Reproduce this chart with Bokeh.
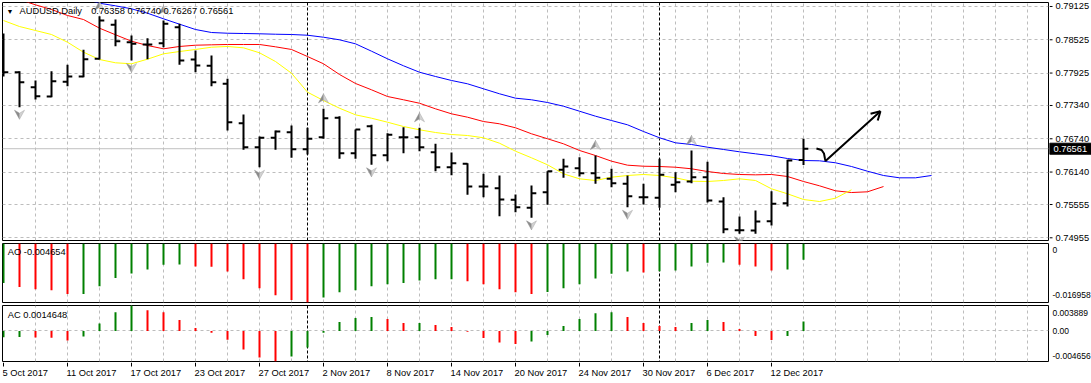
from bokeh.plotting import figure
from bokeh.models import Range1d, FixedTicker, Label, Span, Grid, ColumnDataSource
from bokeh.layouts import column, row
from bokeh.core.properties import value
from bokeh.embed import file_html
from bokeh.resources import INLINE

# ---------------- data ----------------
symbol = "AUDUSD,Daily"
dates = ["2017-10-05", "2017-10-06", "2017-10-09", "2017-10-10", "2017-10-11", "2017-10-12", "2017-10-13",
         "2017-10-16", "2017-10-17", "2017-10-18", "2017-10-19", "2017-10-20", "2017-10-23", "2017-10-24",
         "2017-10-25", "2017-10-26", "2017-10-27", "2017-10-30", "2017-10-31",
         "2017-11-01", "2017-11-02", "2017-11-03", "2017-11-06", "2017-11-07", "2017-11-08", "2017-11-09",
         "2017-11-10", "2017-11-13", "2017-11-14", "2017-11-15", "2017-11-16", "2017-11-17", "2017-11-20",
         "2017-11-21", "2017-11-22", "2017-11-23", "2017-11-24", "2017-11-27", "2017-11-28", "2017-11-29",
         "2017-11-30",
         "2017-12-01", "2017-12-04", "2017-12-05", "2017-12-06", "2017-12-07", "2017-12-08", "2017-12-11",
         "2017-12-12", "2017-12-13", "2017-12-14"]
tick_index = [0, 4, 8, 12, 16, 20, 24, 28, 32, 36, 40, 44, 48]
tick_labels = ["5 Oct 2017", "11 Oct 2017", "17 Oct 2017", "23 Oct 2017", "27 Oct 2017", "2 Nov 2017",
               "8 Nov 2017", "14 Nov 2017", "20 Nov 2017", "24 Nov 2017", "30 Nov 2017", "6 Dec 2017",
               "12 Dec 2017"]

opens = [0.78422, 0.77940, 0.77670, 0.77502, 0.77767, 0.77863, 0.78182, 0.78795, 0.78481, 0.78440,
         0.78463, 0.78752, 0.78169, 0.78056, 0.77731, 0.77021, 0.76588, 0.76758, 0.76858, 0.76552,
         0.76768, 0.77118, 0.76480, 0.76967, 0.76444, 0.76768, 0.76768, 0.76498, 0.76227, 0.76289,
         0.75879, 0.75849, 0.75640, 0.75495, 0.75777, 0.76181, 0.76209, 0.76119, 0.76018, 0.75928,
         0.75687, 0.75676, 0.75910, 0.75970, 0.76047, 0.75609, 0.75092, 0.75086, 0.75254, 0.75578, 0.76358]
highs = [0.78638, 0.77958, 0.77791, 0.77958, 0.78074, 0.78344, 0.78950, 0.78890, 0.78602, 0.78553,
         0.78872, 0.78813, 0.78332, 0.78241, 0.77821, 0.77178, 0.76781, 0.76889, 0.76979, 0.76938,
         0.77280, 0.77147, 0.76907, 0.76992, 0.76840, 0.76949, 0.76938, 0.76649, 0.76492, 0.76300,
         0.76108, 0.76078, 0.75735, 0.75897, 0.76155, 0.76379, 0.76408, 0.76438, 0.76199, 0.76078,
         0.75928, 0.76379, 0.76137, 0.76529, 0.76325, 0.75687, 0.75339, 0.75447, 0.75795, 0.76361, 0.76740]
lows = [0.77863, 0.77309, 0.77448, 0.77490, 0.77688, 0.77850, 0.78169, 0.78409, 0.78151, 0.78175,
        0.78391, 0.78074, 0.77940, 0.77688, 0.76889, 0.76541, 0.76227, 0.76541, 0.76397, 0.76456,
        0.76740, 0.76379, 0.76379, 0.76271, 0.76336, 0.76480, 0.76516, 0.76155, 0.76083, 0.75730,
        0.75687, 0.75344, 0.75416, 0.75315, 0.75550, 0.76036, 0.76060, 0.75928, 0.75867, 0.75506,
        0.75555, 0.75495, 0.75777, 0.75939, 0.75591, 0.75037, 0.75027, 0.75027, 0.75176, 0.75519, 0.76267]
closes = [0.77940, 0.77760, 0.77508, 0.77778, 0.77863, 0.78175, 0.78872, 0.78499, 0.78452, 0.78440,
          0.78813, 0.78151, 0.78061, 0.77760, 0.77039, 0.76588, 0.76758, 0.76871, 0.76552, 0.76740,
          0.77111, 0.76480, 0.76907, 0.76444, 0.76812, 0.76768, 0.76588, 0.76227, 0.76300, 0.75879,
          0.75879, 0.75645, 0.75506, 0.75759, 0.76155, 0.76240, 0.76119, 0.76036, 0.75939, 0.75705,
          0.75687, 0.76090, 0.75957, 0.76047, 0.75627, 0.75110, 0.75092, 0.75248, 0.75568, 0.76348, 0.76561]

# Alligator lines (shifted forward past the last bar)
lips = [0.78872, 0.78764, 0.78692, 0.78620, 0.78481, 0.78301, 0.78169, 0.78110, 0.78092, 0.78175,
        0.78272, 0.78313, 0.78350, 0.78391, 0.78404, 0.78380, 0.78290, 0.78133, 0.77922, 0.77580,
        0.77430, 0.77291, 0.77172, 0.77111, 0.77039, 0.76961, 0.76902, 0.76853, 0.76817, 0.76799,
        0.76758, 0.76660, 0.76516, 0.76397, 0.76271, 0.76108, 0.76018, 0.75988, 0.76047, 0.76078,
        0.76096, 0.76078, 0.76036, 0.75975, 0.75970, 0.75988, 0.76018, 0.75988, 0.75838, 0.75748,
        0.75645, 0.75609, 0.75669, 0.75820]
teeth = [0.79336, 0.79251, 0.79155, 0.79071, 0.78963, 0.78890, 0.78734, 0.78615, 0.78499, 0.78422,
         0.78362, 0.78404, 0.78427, 0.78434, 0.78440, 0.78440, 0.78440, 0.78398, 0.78350, 0.78223,
         0.78092, 0.77899, 0.77737, 0.77623, 0.77502, 0.77443, 0.77381, 0.77280, 0.77190, 0.77129,
         0.77051, 0.77010, 0.76938, 0.76830, 0.76740, 0.76649, 0.76529, 0.76438, 0.76336, 0.76264,
         0.76245, 0.76240, 0.76227, 0.76199, 0.76150, 0.76114, 0.76096, 0.76090, 0.76096, 0.76060,
         0.75970, 0.75892, 0.75802, 0.75771, 0.75784, 0.75879]
jaw = [0.79485, 0.79449, 0.79413, 0.79377, 0.79323, 0.79269, 0.79184, 0.79137, 0.79083, 0.79004,
       0.78903, 0.78806, 0.78710, 0.78656, 0.78643, 0.78638, 0.78633, 0.78625, 0.78620, 0.78607,
       0.78571, 0.78524, 0.78452, 0.78319, 0.78182, 0.78056, 0.77940, 0.77863, 0.77791, 0.77731,
       0.77641, 0.77551, 0.77472, 0.77443, 0.77394, 0.77327, 0.77237, 0.77147, 0.77069, 0.76992,
       0.76871, 0.76758, 0.76667, 0.76637, 0.76588, 0.76547, 0.76505, 0.76469, 0.76433, 0.76384,
       0.76348, 0.76343, 0.76307, 0.76240, 0.76155, 0.76078, 0.76036, 0.76036, 0.76078]

ao = [-0.01136, -0.01249, -0.01314, -0.01342, -0.01455, -0.01450, -0.01229, -0.00995, -0.00862, -0.00749,
      -0.00608, -0.00602, -0.00664, -0.00670, -0.00805, -0.01031, -0.01286, -0.01484, -0.01625, -0.016958,
      -0.01549, -0.01399, -0.01342, -0.01229, -0.01173, -0.01136, -0.01060, -0.01031, -0.01026, -0.01088,
      -0.01173, -0.01314, -0.01399, -0.01455, -0.01393, -0.01286, -0.01173, -0.01003, -0.00870, -0.00805,
      -0.00834, -0.00800, -0.00777, -0.00664, -0.00551, -0.00545, -0.00608, -0.00664, -0.00777, -0.00749,
      -0.004654]
ac = [-0.00095, -0.00093, -0.00101, -0.00103, -0.00147, -0.00086, 0.00116, 0.00287, 0.003889, 0.00318,
      0.00287, 0.00166, 0.00045, -0.00026, -0.00132, -0.00283, -0.00404, -0.004656, -0.00389, -0.00253,
      -0.00026, 0.00136, 0.00197, 0.00212, 0.00181, 0.00121, 0.00123, 0.00091, 0.00060, -0.00011,
      -0.00106, -0.00177, -0.00197, -0.00162, -0.00060, 0.00076, 0.00181, 0.00272, 0.00287, 0.00212,
      0.00121, 0.00076, 0.00060, 0.00121, 0.00166, 0.00136, 0.00030, -0.00076, -0.00136, -0.00076,
      0.0014648]

fractal_up = [6, 10, 20, 26, 37, 43]
fractal_down = [1, 8, 16, 23, 33, 39, 46]

price_levels = [0.79125, 0.78525, 0.77925, 0.77340, 0.76740, 0.76140, 0.75555, 0.74955]
price_top, price_bottom = 0.79197, 0.74906

# hand-drawn arrow (bar index, price)
drawn_arrow_x = [50.81, 51.13, 51.28, 51.34, 51.375, 54.81]
drawn_arrow_y = [0.76565, 0.76538, 0.76474, 0.76384, 0.76339, 0.77237]
drawn_head_x = [54.19, 54.64]
drawn_head_y = [0.77190, 0.77069]

# ---------------- style / layout ----------------
FONT = "Liberation Sans"
FS = "9.3px"
FS_SUB = "8.5px"
GRID = "#bdbdbd"
GREEN = "#008000"
RED = "#ff0000"

W = 1091
RW = 42                 # width of the right-hand price scale strip
LW = W - RW             # width of the chart column
LB, RB = 2, 1
FW = LW - LB - RB
BAR_PX = 16
x_start = -1.0 / BAR_PX
x_end = x_start + FW / BAR_PX
xr = Range1d(x_start, x_end)

TOP, BOT = 2, 1
H_MAIN, H_AO, H_AC, H_X = 241, 62, 59, 21
SCALE_EXTRA = 2         # main price strip reaches 2px lower so its last label is not clipped

n = len(dates)
idx = list(range(n))
month_starts = [i for i in range(1, n) if dates[i][5:7] != dates[i - 1][5:7]]
grid_x = list(range(2, int(x_end) + 1, 2))


def bare(p):
    p.grid.visible = False
    p.background_fill_color = "white"
    p.border_fill_color = "white"
    p.outline_line_color = None
    return p


def make_fig(h, yr):
    p = figure(width=LW, height=h, x_range=xr, y_range=yr, output_backend="svg",
               toolbar_location=None, x_axis_location=None, y_axis_location=None,
               min_border_left=LB, min_border_right=RB, min_border_top=TOP,
               min_border_bottom=BOT)
    bare(p)
    p.outline_line_color = "black"
    p.outline_line_width = 1
    p.add_layout(Grid(dimension=0, ticker=FixedTicker(ticks=grid_x),
                      grid_line_color=GRID, grid_line_dash="3 3"))
    for m in month_starts:
        p.add_layout(Span(location=m, dimension="height", line_color="black",
                          line_dash="3 2", line_width=1, level="underlay"))
    return p


def make_scale(h, yr, top=TOP, bottom=BOT):
    p = figure(width=RW, height=h, x_range=Range1d(0, RW), y_range=yr, output_backend="svg",
               toolbar_location=None, x_axis_location=None, y_axis_location=None,
               min_border_left=0, min_border_right=0, min_border_top=top,
               min_border_bottom=bottom)
    return bare(p)


def lbl(p, text, x, y, **kw):
    args = dict(x=x, y=y, x_units="screen", y_units="screen", text=text,
                text_font=FONT, text_font_size=FS, text_color="black",
                text_baseline="middle", text_align="left")
    args.update(kw)
    p.add_layout(Label(**args))


def txt(p, xs, ys, texts, size=FS, color="black", **kw):
    p.text(x=xs, y=ys, text=texts, text_font=value(FONT), text_font_size=value(size),
           text_color=color, text_baseline="middle", text_align="left", **kw)


# ---------------- main pane ----------------
yr_main = Range1d(price_bottom, price_top)
pm = make_fig(H_MAIN, yr_main)
frame_h_main = H_MAIN - TOP - BOT
px_y = (price_top - price_bottom) / frame_h_main   # one pixel in price units
px_x = 1.0 / BAR_PX                                 # one pixel in bar units

pm.add_layout(Grid(dimension=1, ticker=FixedTicker(ticks=price_levels),
                   grid_line_color=GRID, grid_line_dash="3 3"))
pm.add_layout(Span(location=closes[-1], dimension="width", line_color="#c0c0c0",
                   line_width=1, level="underlay"))

pm.line(list(range(len(jaw))), jaw, line_color="#0000ff", line_width=1)
pm.line(list(range(len(teeth))), teeth, line_color="#ff0000", line_width=1)
pm.line(list(range(len(lips))), lips, line_color="#ffff00", line_width=1)

src = ColumnDataSource(dict(x=idx, o=opens, h=highs, l=lows, c=closes,
                            xl=[i - 0.3 for i in idx], xr=[i + 0.3 for i in idx]))
pm.segment(x0="x", y0="l", x1="x", y1="h", source=src, line_color="black", line_width=2)
pm.segment(x0="xl", y0="o", x1="x", y1="o", source=src, line_color="black", line_width=2)
pm.segment(x0="x", y0="c", x1="xr", y1="c", source=src, line_color="black", line_width=2)

# fractal arrowheads
lx, ly, rx, ry = [], [], [], []
for i in fractal_up:
    cy = highs[i] + 10 * px_y
    tip, wing, notch = cy + 5 * px_y, cy - 4 * px_y, cy - 1 * px_y
    lx.append([i, i - 5 * px_x, i]); ly.append([tip, wing, notch])
    rx.append([i, i, i + 5 * px_x]); ry.append([tip, notch, wing])
for i in fractal_down:
    cy = lows[i] - 7 * px_y
    tip, wing, notch = cy - 5 * px_y, cy + 4 * px_y, cy + 1 * px_y
    lx.append([i, i - 5 * px_x, i]); ly.append([tip, wing, notch])
    rx.append([i, i, i + 5 * px_x]); ry.append([tip, notch, wing])
pm.patches(lx, ly, fill_color="#8c8c8c", line_color="#8c8c8c", line_width=0.5)
pm.patches(rx, ry, fill_color="#d2d2d2", line_color="#a8a8a8", line_width=0.5)

# hand-drawn arrow
pm.line(drawn_arrow_x, drawn_arrow_y, line_color="black", line_width=2)
pm.segment(x0=[drawn_arrow_x[-1]] * 2, y0=[drawn_arrow_y[-1]] * 2,
           x1=drawn_head_x, y1=drawn_head_y, line_color="black", line_width=2)

# title
lbl(pm, "\u25BC", 4, frame_h_main - 8.7, text_font_size="7px")
lbl(pm, symbol, 17, frame_h_main - 8)
lbl(pm, f"{opens[-1]:.5f} {highs[-1]:.5f} {lows[-1]:.5f} {closes[-1]:.5f}", 88.7, frame_h_main - 8)

# main price scale (frame covers the full strip height, same pixel mapping as the main pane)
yr_main_scale = Range1d(price_bottom - (BOT + SCALE_EXTRA) * px_y, price_top + TOP * px_y)
rm = make_scale(H_MAIN + SCALE_EXTRA, yr_main_scale, top=0, bottom=0)
rm.segment(x0=[0] * len(price_levels), y0=price_levels, x1=[3] * len(price_levels), y1=price_levels,
           line_color="black", line_width=1)
txt(rm, [6] * len(price_levels), price_levels, [f"{v:.5f}" for v in price_levels])
rm.rect(x=[RW / 2], y=[closes[-1]], width=[RW], height=[11], height_units="screen",
        fill_color="black", line_color="black")
txt(rm, [4], [closes[-1]], [f"{closes[-1]:.5f}"], color="white")

# ---------------- AO pane ----------------
ao_min = min(ao)
yr_ao = Range1d(ao_min, 0.0)
pa = make_fig(H_AO, yr_ao)
frame_h_ao = H_AO - TOP - BOT
ao_col = [GREEN] + [GREEN if ao[i] > ao[i - 1] else RED for i in range(1, n)]
pa.segment(x0=idx, y0=[0.0] * n, x1=idx, y1=ao, line_color=ao_col, line_width=2)
lbl(pa, f"AO {ao[-1]:.6f}", 5.3, frame_h_ao - 8.7)

ra = make_scale(H_AO - SCALE_EXTRA, yr_ao, top=TOP - SCALE_EXTRA)
txt(ra, [3], [0.0], ["0"], size=FS_SUB, y_offset=6)
txt(ra, [3], [ao_min], [f"{ao_min:.6f}"], size=FS_SUB, y_offset=-8)

# ---------------- AC pane ----------------
ac_min, ac_max = min(ac), max(ac)
yr_ac = Range1d(ac_min, ac_max)
pc = make_fig(H_AC, yr_ac)
frame_h_ac = H_AC - TOP - BOT
pc.add_layout(Grid(dimension=1, ticker=FixedTicker(ticks=[0.0]),
                   grid_line_color=GRID, grid_line_dash="3 3"))
ac_col = [GREEN] + [GREEN if ac[i] > ac[i - 1] else RED for i in range(1, n)]
pc.segment(x0=idx, y0=[0.0] * n, x1=idx, y1=ac, line_color=ac_col, line_width=2)
lbl(pc, f"AC {ac[-1]:.7f}", 5.3, frame_h_ac - 9.3)

rc = make_scale(H_AC, yr_ac)
txt(rc, [3], [ac_max], [f"{ac_max:.6f}"], size=FS_SUB, y_offset=7)
txt(rc, [3], [0.0], ["0.00"], size=FS_SUB)
txt(rc, [3], [ac_min], [f"{ac_min:.6f}"], size=FS_SUB, y_offset=-6)

# ---------------- time scale ----------------
px = figure(width=LW, height=H_X, x_range=xr, y_range=Range1d(0, H_X), output_backend="svg",
            toolbar_location=None, x_axis_location=None, y_axis_location=None,
            min_border_left=LB, min_border_right=RB, min_border_top=0, min_border_bottom=0)
bare(px)
px.segment(x0=tick_index, y0=[H_X] * len(tick_index), x1=tick_index, y1=[H_X - 4] * len(tick_index),
           line_color="black", line_width=1)
txt(px, tick_index, [H_X - 10] * len(tick_index), tick_labels, x_offset=-1)

layout = row(column(pm, pa, pc, px, spacing=0), column(rm, ra, rc, spacing=0), spacing=0)
open("out.html", "w").write(file_html(layout, INLINE))
